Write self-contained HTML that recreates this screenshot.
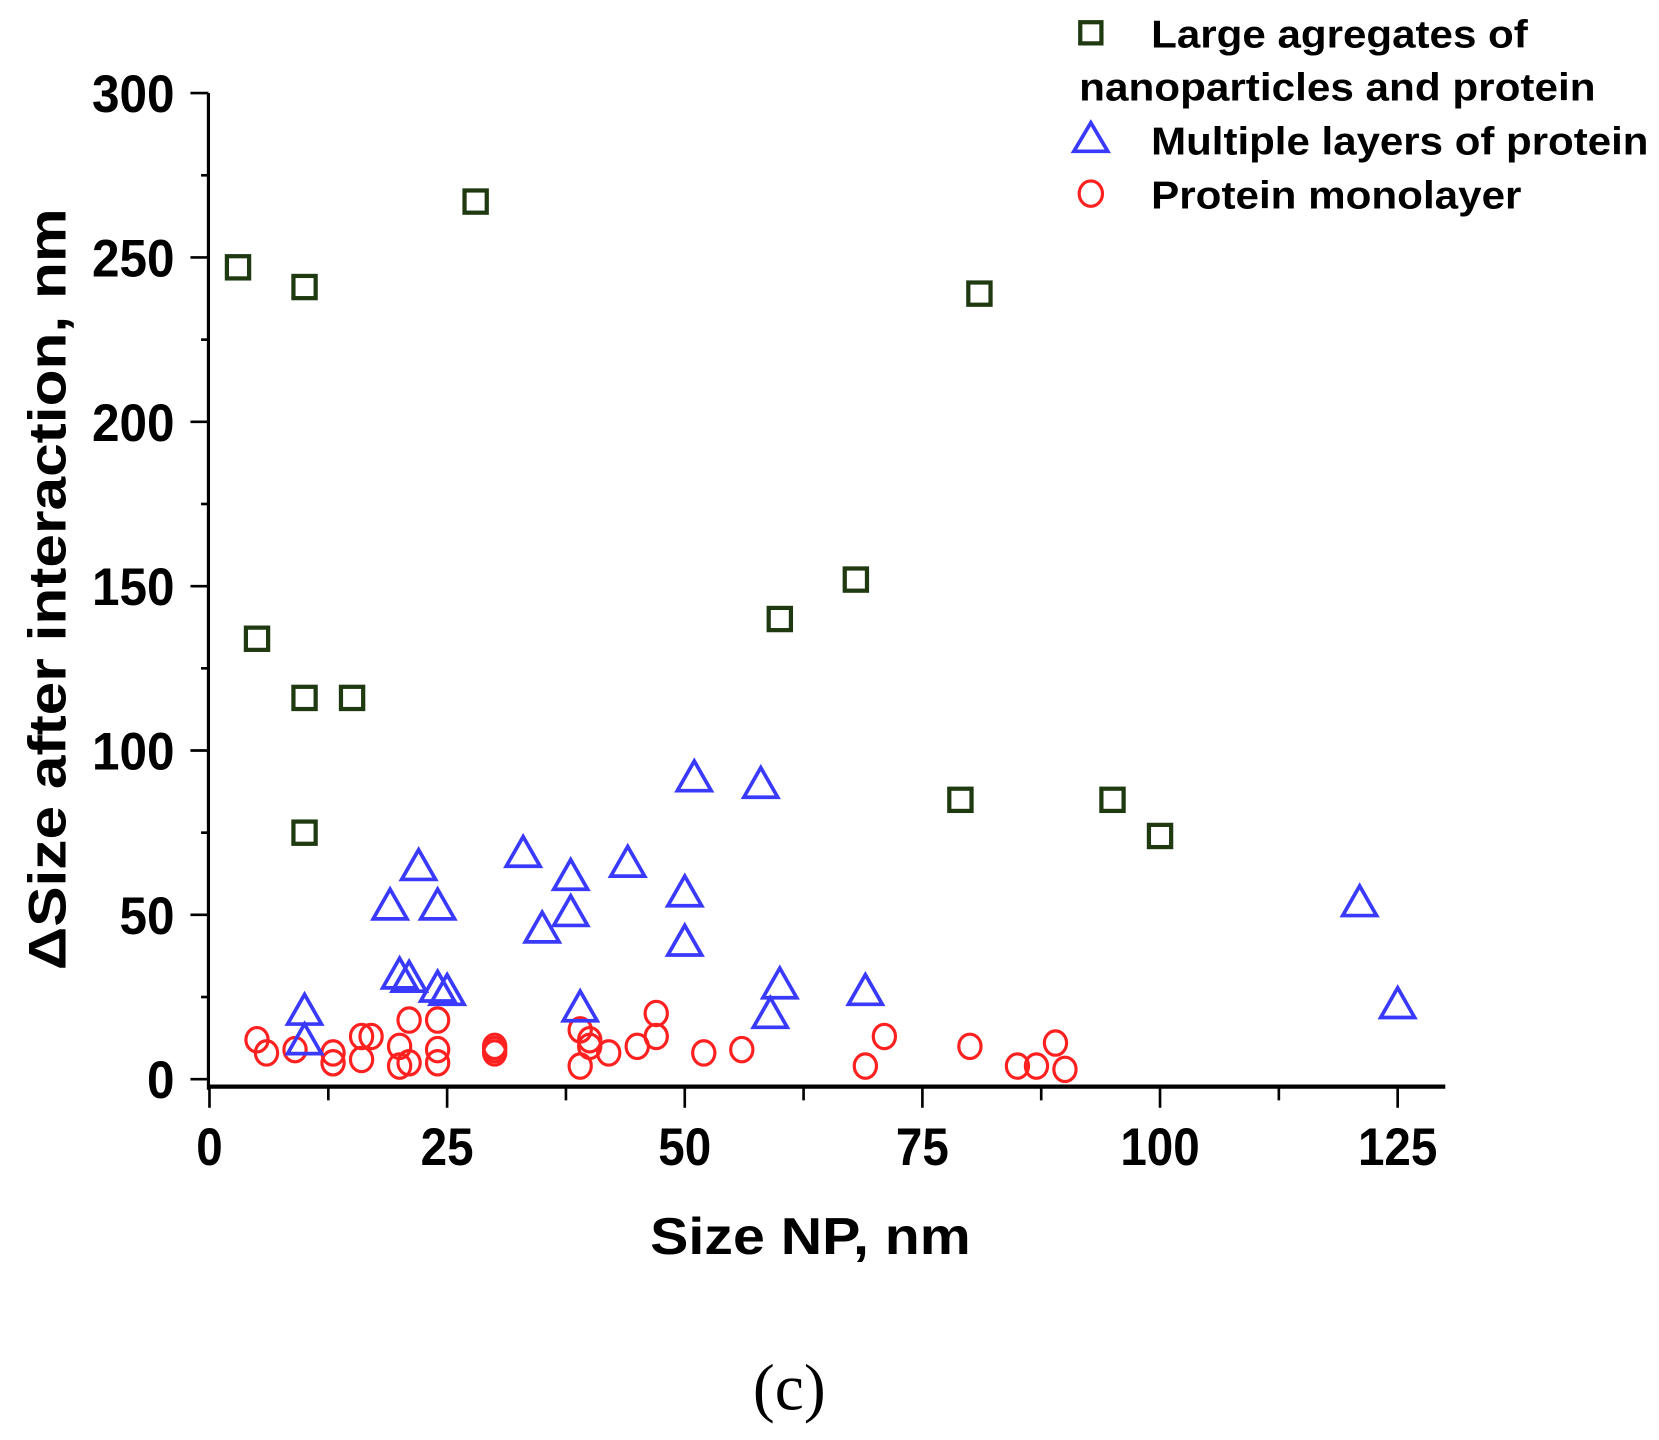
<!DOCTYPE html>
<html><head><meta charset="utf-8"><style>
html,body{margin:0;padding:0;background:#fff;}
svg{display:block;}
text{font-family:"Liberation Sans",Arial,sans-serif;font-weight:bold;fill:#000;}
</style></head><body>
<svg id="chart" width="1659" height="1440" viewBox="0 0 1568 1361" preserveAspectRatio="none" xmlns="http://www.w3.org/2000/svg">
<g id="axes"></g>
<g id="marks"></g>
<g id="legend">
  <rect x="1021" y="21" width="20" height="20" fill="none" stroke="#1f3a10" stroke-width="4"/>
  <text x="1088" y="45" font-size="37" textLength="356" lengthAdjust="spacingAndGlyphs">Large agregates of</text>
  <text x="1020" y="95" font-size="37" textLength="488" lengthAdjust="spacingAndGlyphs">nanoparticles and protein</text>
  <polygon points="1031,116 1047,143 1015,143" fill="none" stroke="#3a3aff" stroke-width="3.5"/>
  <text x="1088" y="146" font-size="37" textLength="470" lengthAdjust="spacingAndGlyphs">Multiple layers of protein</text>
  <ellipse cx="1031" cy="183" rx="11" ry="12" fill="none" stroke="#ff2020" stroke-width="3"/>
  <text x="1088" y="197" font-size="37" textLength="350" lengthAdjust="spacingAndGlyphs">Protein monolayer</text>
</g>
<text transform="translate(62,557) rotate(-90)" text-anchor="middle" font-size="50" textLength="720" lengthAdjust="spacingAndGlyphs">ΔSize after interaction, nm</text>
<text x="766" y="1185" text-anchor="middle" font-size="49" textLength="303" lengthAdjust="spacingAndGlyphs">Size NP, nm</text>
<text x="746" y="1332" text-anchor="middle" font-size="62" style="font-family:'Liberation Serif',serif;font-weight:normal">(c)</text>
</svg>
<script>
const squareX=[3,5,10,10,10,15,28,60,68,79,81,95,100];
const squareY=[247,134,241,116,75,116,267,140,152,85,239,85,74];
const triX=[10,10,19,20,21,22,24,24,25,33,35,38,38,39,44,50,50,51,58,59,60,69,121,125];
const triY=[20,11,52,31,30,64,52,27,26,68,45,61,50,21,65,56,41,91,89,19,28,26,53,22];
const circX=[5,6,9,13,13,16,16,17,20,20,21,21,24,24,24,30,30,30,39,39,40,40,42,45,47,47,52,56,69,71,80,85,87,89,90];
const circY=[12,8,9,5,8,6,13,13,10,4,18,5,18,9,5,10,8,9,4,15,12,10,8,10,13,20,8,9,4,13,10,4,4,11,3];
const xTicks=[0,25,50,75,100,125];
const yTicks=[0,50,100,150,200,250,300];
const NS='http://www.w3.org/2000/svg';
const X0=198,X1=1321,Y0=1020,Y1=88;
function sx(v){return X0+(X1-X0)*v/125;}
function sy(v){return Y0+(Y1-Y0)*v/300;}
function mk(tag,attrs,parent){const e=document.createElementNS(NS,tag);for(const k in attrs)e.setAttribute(k,attrs[k]);parent.appendChild(e);return e;}
const axes=document.getElementById('axes'),marks=document.getElementById('marks');
let l=mk('line',{x1:197,y1:Y1,x2:197,y2:1030,stroke:'#000','stroke-width':3},axes);


l=mk('line',{x1:196,y1:1027,x2:1366,y2:1027,stroke:'#000','stroke-width':4},axes);


for(let v=0;v<=130;v+=12.5){
  const major=(v%25===0);
  const t=mk('line',{x1:sx(v),y1:1027,x2:sx(v),y2:major?1047:1040,stroke:'#000','stroke-width':2.5},axes);
  
  
}
for(let v=0;v<=300;v+=25){
  const major=(v%50===0);
  const t=mk('line',{x1:major?180:190,y1:sy(v),x2:197,y2:sy(v),stroke:'#000','stroke-width':2.5},axes);
  
  
}
xTicks.forEach(v=>{
  const s=String(v);
  const t=mk('text',{x:sx(v),y:1101,'text-anchor':'middle','font-size':50,textLength:s.length*25,lengthAdjust:'spacingAndGlyphs'},axes);
  t.textContent=s;
  
  
});
yTicks.forEach(v=>{
  const s=String(v);
  const t=mk('text',{x:165,y:sy(v)+18,'text-anchor':'end','font-size':50,textLength:s.length*26,lengthAdjust:'spacingAndGlyphs'},axes);
  t.textContent=s;
  
  
});
circX.forEach((x,i)=>{
  const c=mk('ellipse',{cx:sx(x),cy:sy(circY[i]),rx:10.5,ry:11.5,fill:'none',stroke:'#ff2020','stroke-width':3},marks);
  
  
});
triX.forEach((x,i)=>{
  const cx=sx(x),cy=sy(triY[i]);
  const p=mk('polygon',{points:`${cx},${cy-18} ${cx+16},${cy+10} ${cx-16},${cy+10}`,fill:'none',stroke:'#3a3aff','stroke-width':3.5},marks);
  
  
});
squareX.forEach((x,i)=>{
  const r=mk('rect',{x:sx(x)-10.5,y:sy(squareY[i])-10.5,width:21,height:21,fill:'none',stroke:'#1f3a10','stroke-width':4},marks);
  
  
});
</script>
</body></html>
